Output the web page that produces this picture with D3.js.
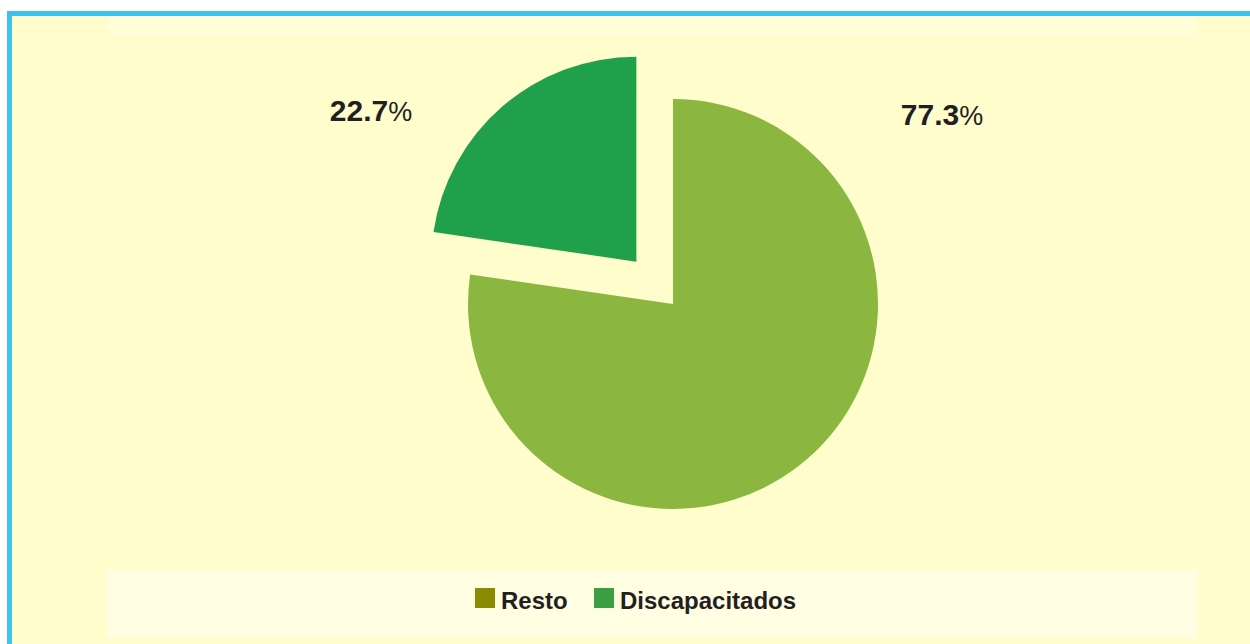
<!DOCTYPE html>
<html>
<head>
<meta charset="utf-8">
<script src="https://cdn.jsdelivr.net/npm/d3@7"></script>
<style>
body { margin: 0; background: #fff; }
</style>
</head>
<body>
<script>
var w = 1250;
var h = 644;

var categories = ["Resto", "Discapacitados"];
var values = [77.3, 22.7];
var labels = ["77.3", "22.7"];
var pieColors = ["#8bb640", "#20a04a"];
var legendColors = ["#8b8b00", "#3a9f43"];

var svg = d3.select("body")
    .append("svg")
    .attr("width", w)
    .attr("height", h);

// page background + frame
svg.append("rect")
    .attr("x", 7).attr("y", 11)
    .attr("width", w - 7).attr("height", h - 11)
    .attr("fill", "#3ec3ea");
svg.append("rect")
    .attr("x", 12).attr("y", 16)
    .attr("width", w - 12).attr("height", h - 16)
    .attr("fill", "#fffdcc");
svg.append("rect")
    .attr("x", 107).attr("y", 16)
    .attr("width", 1090).attr("height", 20)
    .attr("fill", "#fffed9");
svg.append("rect")
    .attr("x", 107).attr("y", 570)
    .attr("width", 1090).attr("height", 68)
    .attr("fill", "#fffee3");

var cx = 673, cy = 304, r = 205, explode = 56;

var pie = d3.pie().sort(null).value(function(d) { return d; });
var arc = d3.arc().innerRadius(0).outerRadius(r);
var arcs = pie(values);

var g = svg.append("g").attr("transform", "translate(" + cx + "," + cy + ")");

g.selectAll("path")
    .data(arcs)
    .enter()
    .append("path")
    .attr("d", arc)
    .attr("fill", function(d, i) { return pieColors[i]; })
    .attr("transform", function(d, i) {
        if (i == 0) return null;
        var a = (d.startAngle + d.endAngle) / 2;
        return "translate(" + (Math.sin(a) * explode) + "," + (-Math.cos(a) * explode) + ")";
    });

// value labels
var labelPos = [[269, -179], [-302, -183]];
var t = g.selectAll("text.val")
    .data(labels)
    .enter()
    .append("text")
    .attr("class", "val")
    .attr("x", function(d, i) { return labelPos[i][0]; })
    .attr("y", function(d, i) { return labelPos[i][1]; })
    .attr("text-anchor", "middle")
    .attr("font-family", "Liberation Sans, Arial, sans-serif")
    .attr("font-size", "30px")
    .attr("fill", "#231f20");
t.append("tspan").attr("font-weight", "bold").text(function(d) { return d; });
t.append("tspan").attr("font-size", "27px").text("%");

// legend
var legendX = [475, 594];
var lg = svg.selectAll("g.leg")
    .data(categories)
    .enter()
    .append("g")
    .attr("class", "leg")
    .attr("transform", function(d, i) { return "translate(" + legendX[i] + ",588)"; });

lg.append("rect")
    .attr("width", 20)
    .attr("height", 20)
    .attr("fill", function(d, i) { return legendColors[i]; });

lg.append("text")
    .attr("x", 26)
    .attr("y", 21)
    .attr("font-family", "Liberation Sans, Arial, sans-serif")
    .attr("font-weight", "bold")
    .attr("font-size", "24px")
    .attr("fill", "#231f20")
    .text(function(d) { return d; });
</script>
</body>
</html>
